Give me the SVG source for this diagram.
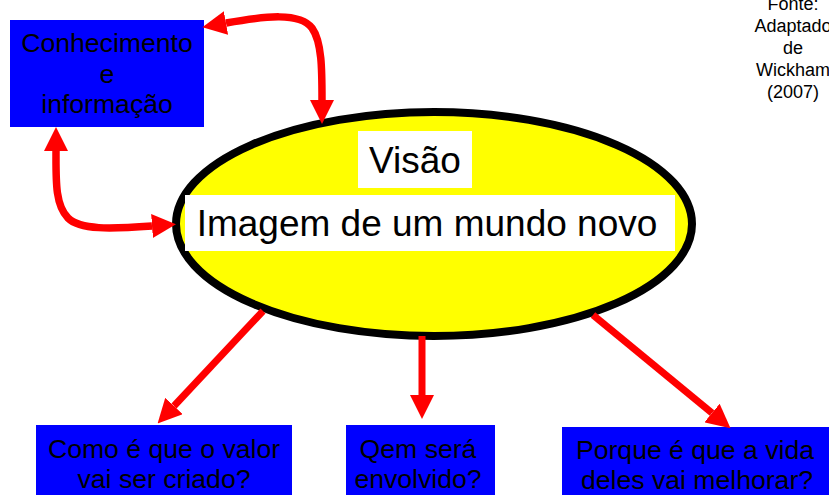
<svg xmlns="http://www.w3.org/2000/svg" width="829" height="495" viewBox="0 0 829 495">
<style>
.box{fill:#0000ff}
.t{font-family:"Liberation Sans",Arial,sans-serif;font-size:26.6px;fill:#000;text-anchor:middle}
.big{font-family:"Liberation Sans",Arial,sans-serif;font-size:37px;fill:#000;text-anchor:middle}
.src{font-family:"Liberation Sans",Arial,sans-serif;font-size:18px;fill:#000;text-anchor:middle}
.arr{fill:none;stroke:#ff0000;stroke-width:7;marker-end:url(#ah)}
.arr2{fill:none;stroke:#ff0000;stroke-width:7.5;marker-end:url(#ah);marker-start:url(#ah)}
</style>
<defs>
<marker id="ah" markerUnits="userSpaceOnUse" viewBox="0 0 24 24" markerWidth="24" markerHeight="24" refX="0" refY="12" orient="auto-start-reverse">
<path d="M0,0 L24,12 L0,24 Z" fill="#ff0000"/>
</marker>
</defs>
<rect width="829" height="495" fill="#fff"/>
<g id="source">
<text class="src" x="793" y="10">Fonte:</text>
<text class="src" x="793" y="32">Adaptado</text>
<text class="src" x="793" y="54">de</text>
<text class="src" x="793" y="76">Wickham</text>
<text class="src" x="793" y="98">(2007)</text>
</g>
<g id="vision">
<ellipse cx="434" cy="224" rx="258" ry="112" fill="#ffff00" stroke="#000" stroke-width="8"/>
<rect x="358" y="131" width="114" height="57" fill="#fff"/>
<text class="big" x="415" y="173">Visão</text>
<rect x="185" y="195" width="490" height="56" fill="#fff"/>
<text class="big" x="427" y="236">Imagem de um mundo novo</text>
</g>
<g id="knowledge">
<rect class="box" x="10" y="20" width="194" height="107"/>
<text class="t" x="107" y="52">Conhecimento</text>
<text class="t" x="107" y="83">e</text>
<text class="t" x="107" y="113">informação</text>
</g>
<g id="value">
<rect class="box" x="36" y="425" width="256" height="70"/>
<text class="t" x="164" y="458">Como é que o valor</text>
<text class="t" x="164" y="488">vai ser criado?</text>
</g>
<g id="who">
<rect class="box" x="346" y="425" width="149" height="70"/>
<text class="t" x="418" y="458">Qem será</text>
<text class="t" x="418" y="488">envolvido?</text>
</g>
<g id="why">
<rect class="box" x="562" y="427" width="268" height="68"/>
<text class="t" x="695" y="459">Porque é que a vida</text>
<text class="t" x="697" y="489">deles vai melhorar?</text>
</g>
<g id="connectors">
<path class="arr2" d="M226,23 C265,16 300,12 312,28 C322,42 322,70 322,100"/>
<path class="arr2" d="M56,151 C56,180 55,205 68,218 C80,230 110,229 152,226"/>
<path class="arr" d="M263,311 L174,406"/>
<path class="arr" d="M422,336 L422,395"/>
<path class="arr" d="M593,315 L712,413"/>
</g>
</svg>
